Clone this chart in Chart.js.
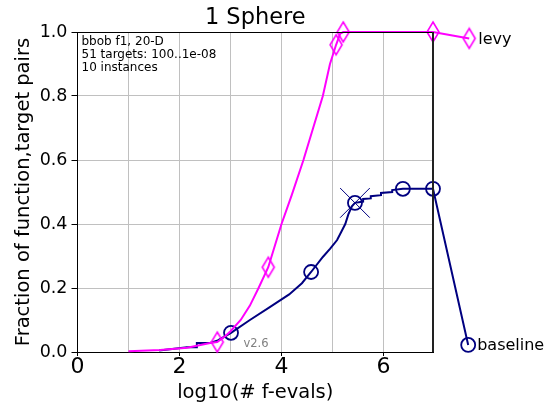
<!DOCTYPE html>
<html>
<head>
<meta charset="utf-8">
<script src="https://cdn.jsdelivr.net/npm/chart.js@4/dist/chart.umd.min.js"></script>
<style>
  html, body { margin: 0; padding: 0; background: #fff; }
</style>
</head>
<body>
<canvas id="ecdf" width="552" height="406"></canvas>
<script>
// values: x = log10(# f-evals), y = fraction of pairs
var levyX = [1.0, 1.62, 2.15, 2.6, 2.74, 2.9, 3.0, 3.2, 3.38, 3.55, 3.74, 4.0, 4.2, 4.43, 4.62, 4.81, 4.95, 5.07, 5.15, 5.21, 6.97, 7.68];
var levyY = [0.002, 0.006, 0.013, 0.028, 0.031, 0.05, 0.065, 0.1, 0.145, 0.2, 0.265, 0.4, 0.49, 0.6, 0.7, 0.8, 0.9, 0.96, 0.995, 1.0, 1.0, 0.98];
var levyMarkX = [2.74, 3.74, 5.07, 5.21, 6.97, 7.68];
var levyMarkY = [0.031, 0.265, 0.96, 1.0, 1.0, 0.98];

var baseX = [1.6, 2.15, 2.34, 2.34, 2.6, 2.75, 3.01, 3.38, 3.77, 4.15, 4.4, 4.58, 4.81, 4.95, 5.09, 5.17, 5.25, 5.31, 5.38, 5.44,
             5.6, 5.6, 5.75, 5.75, 5.95, 5.95, 6.17, 6.17, 6.38, 6.97, 7.66];
var baseY = [0.005, 0.015, 0.015, 0.028, 0.028, 0.036, 0.06, 0.1, 0.14, 0.18, 0.215, 0.25, 0.297, 0.322, 0.35, 0.375, 0.4, 0.43, 0.455, 0.466,
             0.47, 0.478, 0.48, 0.487, 0.49, 0.497, 0.5, 0.506, 0.51, 0.51, 0.022];
var baseMarkX = [3.01, 4.58, 5.44, 6.38, 6.97, 7.66];
var baseMarkY = [0.06, 0.25, 0.466, 0.51, 0.51, 0.022];
var crossX = [5.44];
var crossY = [0.466];

var xGrid = [0, 1, 2, 3, 4, 5, 6];
var xTickLabels = [0, 2, 4, 6];
var xMax = 6.97;
var infoLines = ['bbob f1, 20-D', '51 targets: 100..1e-08', '10 instances'];

function pts(xs, ys) {
    return xs.map(function (x, i) { return {x: x, y: ys[i]}; });
}

// matplotlib style thin diamond
function thinDiamond(color) {
    var c = document.createElement('canvas');
    c.width = 16;
    c.height = 24;
    var g = c.getContext('2d');
    g.strokeStyle = color;
    g.lineWidth = 1.6;
    g.beginPath();
    g.moveTo(8, 2);
    g.lineTo(14, 12);
    g.lineTo(8, 22);
    g.lineTo(2, 12);
    g.closePath();
    g.stroke();
    return c;
}

Chart.defaults.font.family = 'DejaVu Sans';
Chart.defaults.color = '#000';

var frame = {
    id: 'frame',
    afterDatasetsDraw: function (chart) {
        var ctx = chart.ctx, a = chart.chartArea;
        // chart.js skips points outside the area, the last markers sit there
        chart.data.datasets.forEach(function (ds, i) {
            if (!ds.outside) return;
            chart.getDatasetMeta(i).data.forEach(function (p) {
                if (p.x > a.right + 1) p.draw(ctx);
            });
        });
        ctx.save();
        ctx.strokeStyle = '#000';
        ctx.lineWidth = 1;
        ctx.beginPath();
        ctx.moveTo(a.left, a.top + 0.5);
        ctx.lineTo(a.right, a.top + 0.5);
        ctx.stroke();
        ctx.lineWidth = 2;
        ctx.strokeStyle = '#222';
        ctx.beginPath();
        ctx.moveTo(a.right, a.top);
        ctx.lineTo(a.right, a.bottom);
        ctx.stroke();

        ctx.fillStyle = '#000';
        ctx.textAlign = 'center';
        ctx.font = '22.5px "DejaVu Sans"';
        ctx.fillText('1 Sphere', (a.left + a.right) / 2, 24);

        ctx.textAlign = 'left';
        ctx.font = '12px "DejaVu Sans"';
        infoLines.forEach(function (t, i) {
            ctx.fillText(t, a.left + 4, a.top + 13 + i * 13);
        });

        ctx.fillStyle = '#808080';
        ctx.font = '11.5px "DejaVu Sans"';
        ctx.fillText('v2.6', a.left + 166, a.bottom - 5);

        ctx.fillStyle = '#000';
        ctx.font = '16px "DejaVu Sans"';
        [[0, 'levy'], [2, 'baseline']].forEach(function (d) {
            var els = chart.getDatasetMeta(d[0]).data;
            var last = els[els.length - 1];
            ctx.fillText(d[1], last.x + 9, last.y + 5.5);
        });
        ctx.restore();
    }
};

new Chart(document.getElementById('ecdf').getContext('2d'), {
    type: 'line',
    data: {
        datasets: [
            {
                label: 'levy markers',
                data: pts(levyMarkX, levyMarkY),
                showLine: false,
                pointStyle: thinDiamond('#ff00ff'),
                pointRadius: 10,
                clip: false,
                outside: true
            },
            {
                label: 'levy',
                data: pts(levyX, levyY),
                borderColor: '#ff00ff',
                borderWidth: 2,
                pointRadius: 0,
                fill: false,
                tension: 0,
                clip: false
            },
            {
                label: 'baseline markers',
                data: pts(baseMarkX, baseMarkY),
                showLine: false,
                pointStyle: 'circle',
                pointRadius: 7,
                borderColor: '#000080',
                backgroundColor: 'rgba(0,0,0,0)',
                pointBorderWidth: 1.8,
                clip: false,
                outside: true
            },
            {
                label: 'baseline cross',
                data: pts(crossX, crossY),
                showLine: false,
                pointStyle: 'crossRot',
                pointRadius: 21,
                borderColor: '#000080',
                pointBorderWidth: 1,
                clip: false
            },
            {
                label: 'baseline',
                data: pts(baseX, baseY),
                borderColor: '#000080',
                borderWidth: 2,
                pointRadius: 0,
                fill: false,
                tension: 0,
                clip: false
            }
        ]
    },
    options: {
        responsive: false,
        animation: false,
        layout: {
            padding: {top: 32, right: 119, bottom: 0, left: 0}
        },
        plugins: {
            legend: {display: false},
            tooltip: {enabled: false}
        },
        scales: {
            x: {
                type: 'linear',
                bounds: 'data',
                afterDataLimits: function (s) { s.min = 0; s.max = xMax; },
                afterBuildTicks: function (s) {
                    s.ticks = xGrid.map(function (v) { return {value: v}; });
                },
                afterFit: function (s) { s.height = 54; },
                ticks: {
                    autoSkip: false,
                    maxRotation: 0,
                    padding: -2,
                    font: {size: 22},
                    callback: function (v) { return xTickLabels.indexOf(v) >= 0 ? String(v) : ''; }
                },
                grid: {
                    color: '#c0c0c0',
                    tickLength: 4,
                    tickColor: function (c) {
                        return xTickLabels.indexOf(c.tick.value) >= 0 ? '#000' : 'rgba(0,0,0,0)';
                    }
                },
                border: {color: '#000', width: 1},
                title: {
                    display: true,
                    text: 'log10(# f-evals)',
                    font: {size: 19.5},
                    padding: {top: 0, bottom: 1}
                }
            },
            y: {
                min: 0,
                max: 1,
                afterFit: function (s) { s.width = 77.5; },
                ticks: {
                    stepSize: 0.2,
                    padding: 4,
                    font: {size: 17.5},
                    callback: function (v) { return v.toFixed(1); }
                },
                grid: {color: '#c0c0c0', tickColor: '#000', tickLength: 6},
                border: {color: '#000', width: 1},
                title: {
                    display: true,
                    text: 'Fraction of function,target pairs',
                    font: {size: 19.5},
                    padding: {top: 12, bottom: 0}
                }
            }
        }
    },
    plugins: [frame]
});
</script>
</body>
</html>
